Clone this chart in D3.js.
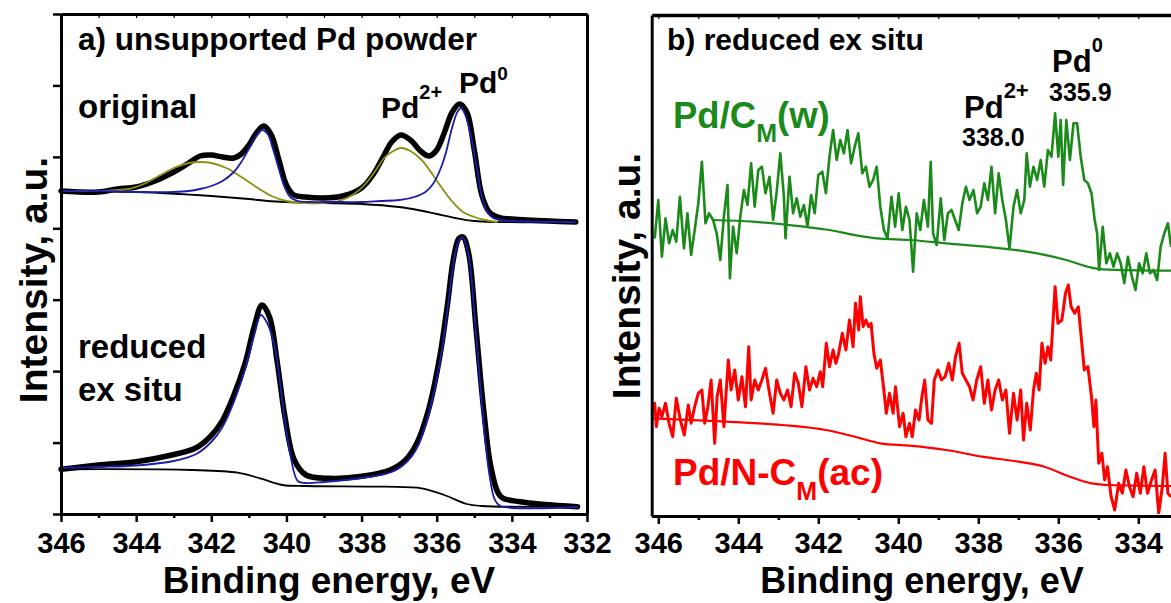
<!DOCTYPE html>
<html><head><meta charset="utf-8">
<script src="https://cdn.jsdelivr.net/npm/d3@7"></script>
<style>
body{margin:0;background:#fff}
text{font-family:"Liberation Sans",Arial,sans-serif;font-weight:bold}
</style>
</head><body>
<svg id="c" width="1171" height="603"></svg>
<script>
// ---------- tick values ----------
const xMajorA = [346,344,342,340,338,336,334,332];
const xMinorA = [345,343,341,339,337,335,333];
const xMajorB = [346,344,342,340,338,336,334];
const xMinorB = [345,343,341,339,337,335,333];
const yTicksA = [0,71.4,142.9,214.3,285.7,357.1,428.6,500];

// ---------- panel a: original (top) ----------
const origData = [[346,323],[345,322],[344.5,325],[344,327],[343.5,333],[343,342],[342.6,351],[342.3,358],[342,359],[341.7,357],[341.4,356],[341.2,360],[341,369],[340.8,381],[340.6,388],[340.4,379],[340.2,354],[340,329],[339.8,319],[339.5,317],[339,316],[338.5,318],[338,326],[337.7,339],[337.4,359],[337.2,372],[336.95,379],[336.7,374],[336.4,362],[336.2,358],[336,364],[335.8,381],[335.6,401],[335.4,410],[335.2,402],[335,364],[334.8,319],[334.6,302],[334.3,296],[334,295],[333,293],[332.3,292]];
const origBg = [[346,323],[344,322],[342,318],[341,315],[340.5,313],[340,312],[339,311],[338,310],[337,307],[336.5,304],[336,300],[335.5,296],[335,293],[334.5,292],[332.3,292]];
const origPd0 = [[346,323],[345,323],[344,322],[343,322],[342.6,323],[342.3,325],[342,328],[341.7,333],[341.4,342],[341.2,352],[341,365],[340.8,378],[340.65,384],[340.5,380],[340.35,364],[340.2,345],[340.05,327],[339.9,317],[339.7,313],[339.4,312],[339,312],[338.5,312],[338,312],[337.5,313],[337,314],[336.6,317],[336.3,322],[336.1,330],[335.9,345],[335.75,362],[335.6,385],[335.45,402],[335.35,406],[335.25,400],[335.1,380],[334.95,350],[334.8,318],[334.65,302],[334.5,296],[334.3,294],[334,293],[332.3,292]];
const origPd2 = [[346,323],[345,323],[344.2,325],[343.8,330],[343.4,338],[343,346],[342.6,351],[342.3,352],[342,351],[341.6,346],[341.2,337],[340.8,327],[340.4,318],[340,313],[339.5,311],[339,311],[338.6,313],[338.2,320],[337.9,330],[337.6,345],[337.4,356],[337.2,362],[336.95,366],[336.7,363],[336.4,354],[336.1,339],[335.9,328],[335.6,313],[335.3,302],[335,297],[334.7,294],[334.4,292]];

// ---------- panel a: reduced ex situ (bottom) ----------
const redData = [[346,44.7],[345,49],[344,52.3],[343.05,59],[342.43,65.7],[342.03,77.3],[341.72,92.3],[341.42,117],[341.1,150.7],[340.86,187],[340.65,209],[340.45,197],[340.24,150.7],[340.04,97.3],[339.79,54],[339.48,39],[338.87,35.7],[337.95,38],[337.24,44],[336.83,54],[336.53,70.7],[336.22,104],[335.92,157],[335.71,210.7],[335.56,254],[335.41,275.7],[335.3,277],[335.15,260.7],[334.95,184],[334.74,100.7],[334.54,44],[334.29,17.3],[333.78,12.3],[332.25,7.3]];
const redBg = [[346,44.7],[342.5,44],[341.3,41.3],[340.7,35.7],[340.1,29],[339.5,28],[337.4,27.3],[336.4,25.7],[335.8,19],[335.2,10],[334.8,8],[332.25,7.3]];
const redPd0 = [[346,46],[345,47],[344,48.5],[343,53],[342.4,60],[342,72],[341.7,87],[341.4,112],[341.1,145],[340.85,180],[340.68,199],[340.5,190],[340.3,165],[340.1,110],[339.9,60],[339.7,33],[339.5,31],[339,32],[338,36],[337.2,42],[336.8,52],[336.5,68],[336.2,102],[335.9,155],[335.7,208],[335.55,252],[335.4,274],[335.3,276],[335.15,258],[334.95,178],[334.75,90],[334.6,40],[334.45,14],[334.3,8],[332.25,7]];

// ---------- panel b ----------
const greenCM = [[346.09,277.7],[346.00,316],[345.91,259.3],[345.82,297.7],[345.73,272.7],[345.64,286],[345.55,274.3],[345.46,319.3],[345.36,267.7],[345.27,302.7],[345.18,261],[345.09,286],[345.00,312.7],[344.91,354.3],[344.82,292.7],[344.73,302.7],[344.63,296],[344.54,282.7],[344.45,256],[344.36,299.3],[344.27,331],[344.21,237.7],[344.13,289.3],[344.04,262.7],[343.95,299.3],[343.86,326],[343.77,311],[343.68,352.7],[343.59,309.3],[343.50,346],[343.41,349.3],[343.32,322.7],[343.22,339.3],[343.13,296],[343.04,324.3],[342.95,362.7],[342.86,319.3],[342.82,277.7],[342.72,339.3],[342.63,302.7],[342.54,317.7],[342.45,299.3],[342.36,311],[342.27,289.3],[342.18,321],[342.09,302.7],[342.00,341],[341.90,344.3],[341.81,322.7],[341.72,359.3],[341.63,386],[341.54,356],[341.45,376],[341.36,362.7],[341.27,386],[341.18,352.7],[341.09,369.3],[341.00,382.7],[340.90,342.7],[340.81,349.3],[340.72,329.3],[340.63,336],[340.54,349.3],[340.45,309.3],[340.36,286],[340.27,277.7],[340.17,319.3],[340.08,289.3],[339.99,322.7],[339.90,286],[339.81,309.3],[339.72,296],[339.63,244.3],[339.54,302.7],[339.45,286],[339.36,316],[339.26,289.3],[339.19,354.3],[339.13,282.7],[339.04,271],[338.94,317.7],[338.85,276],[338.76,302.7],[338.67,306],[338.58,296],[338.49,286],[338.40,312.7],[338.31,329.3],[338.22,316],[338.12,326],[338.03,302.7],[337.94,309.3],[337.85,332.7],[337.76,316],[337.67,349.3],[337.58,302.7],[337.49,342.7],[337.40,316],[337.31,296],[337.22,267.7],[337.12,309.3],[337.03,326],[336.94,302.7],[336.85,316],[336.79,362.7],[336.71,329.3],[336.62,349.3],[336.53,336],[336.44,356],[336.35,329.3],[336.26,366],[336.17,359.3],[336.08,402.7],[336.00,359.3],[335.94,396],[335.88,331],[335.80,396],[335.71,356],[335.62,392.7],[335.53,392.7],[335.44,359.3],[335.35,336],[335.26,332.7],[335.17,322.7],[335.09,296],[335.03,282.7],[334.98,246],[334.89,289.3],[334.80,252.7],[334.71,262.7],[334.62,249.3],[334.53,262.7],[334.44,252.7],[334.35,232.7],[334.26,259.3],[334.16,239.3],[334.07,226],[333.98,252.7],[333.89,242.7],[333.80,262.7],[333.71,242.7],[333.62,246],[333.53,236],[333.44,269.3],[333.35,282.7],[333.26,292.7],[333.18,269.3]];
const greenBg = [[344.63,296],[343.63,294.3],[342.36,289.3],[341.72,286],[341.09,281],[340.54,277.7],[339.72,276],[338.81,272.7],[337.44,267.7],[336.53,262.7],[335.80,256],[335.26,249.3],[334.89,246.7],[333.18,245.3]];
const redNC = [[346.14,102.7],[346.09,112.7],[346.05,89.3],[345.98,107.7],[345.91,99.3],[345.82,112.7],[345.73,92.7],[345.64,79.3],[345.55,117.7],[345.45,96],[345.35,81],[345.25,111],[345.18,92.7],[345.09,109.3],[345.00,122.7],[344.91,126],[344.84,92.7],[344.76,109.3],[344.68,136],[344.59,72.7],[344.53,119.3],[344.45,136],[344.36,89.3],[344.25,156],[344.18,126],[344.09,146],[344.00,116],[343.91,139.3],[343.82,109.3],[343.74,169.3],[343.68,116],[343.59,136],[343.50,126],[343.41,136],[343.32,147.7],[343.22,122.7],[343.13,102.7],[343.04,136],[342.95,122.7],[342.86,116],[342.77,126],[342.68,109.3],[342.59,142.7],[342.50,132.7],[342.41,109.3],[342.31,149.3],[342.22,126],[342.13,137.7],[342.04,129.3],[341.95,144.3],[341.89,129.3],[341.80,172.7],[341.72,149.3],[341.63,166],[341.56,152.7],[341.49,162.7],[341.40,182.7],[341.31,166],[341.22,196],[341.13,169.3],[341.07,212.7],[340.99,186],[340.95,219.3],[340.88,189.3],[340.81,196],[340.74,189.3],[340.68,192.7],[340.61,162.7],[340.54,147.7],[340.45,156],[340.37,129.3],[340.30,102.7],[340.22,122.7],[340.13,102.7],[340.07,129.3],[339.97,89.3],[339.88,102.7],[339.81,79.3],[339.72,92.7],[339.65,79.3],[339.57,106],[339.48,96],[339.41,119.3],[339.34,136],[339.26,96],[339.17,92.7],[339.10,136],[339.01,146],[338.92,136],[338.83,139.3],[338.74,152.7],[338.65,136],[338.57,159.3],[338.48,172.7],[338.40,142.7],[338.31,136],[338.22,129.3],[338.13,116],[338.04,136],[337.94,149.3],[337.85,112.7],[337.76,136],[337.67,106],[337.58,126],[337.49,136],[337.40,116],[337.31,126],[337.22,82.7],[337.12,122.7],[337.03,96],[336.94,126],[336.87,76],[336.79,112.7],[336.70,86],[336.62,126],[336.55,142.7],[336.48,126],[336.41,172.7],[336.33,152.7],[336.26,169.3],[336.19,156],[336.13,196],[336.08,229.3],[336.01,192.7],[335.91,196],[335.82,222.7],[335.75,231],[335.68,209.3],[335.59,202.7],[335.50,209.3],[335.42,176],[335.35,146],[335.26,149.3],[335.17,119.3],[335.11,89.3],[335.06,116],[334.99,52.7],[334.91,62.7],[334.84,36],[334.77,49.3],[334.68,19.3],[334.59,6],[334.49,32.7],[334.40,22.7],[334.31,46],[334.22,29.3],[334.13,19.3],[334.04,42.7],[333.95,22.7],[333.86,49.3],[333.77,22.7],[333.67,36],[333.58,46],[333.49,2.7],[333.40,29.3],[333.33,62.7],[333.26,22.7],[333.18,19.3]];
const redNCBg = [[346.14,97.7],[344.27,94.3],[342.91,91],[341.81,86],[341.09,79.3],[340.45,72.7],[339.72,70.3],[338.81,66],[337.90,59.3],[336.99,54.3],[336.35,49.3],[335.71,39.3],[335.17,32.7],[334.71,31],[333.18,30]];

// ---------- drawing ----------
const svg = d3.select("#c");
const BLUE = "#1c1ca8", OLIVE = "#8f8f14", GREEN = "#1b8a1b", RED = "#ff0000";

const xA = d3.scaleLinear().domain([346,332]).range([61,587]);
const yA = d3.scaleLinear().domain([0,500]).range([514,14]);
const xB = d3.scaleLinear().domain([346.165,333.0]).range([651.7,1178.3]);
const yB = d3.scaleLinear().domain([0,501]).range([516,15]);

function lineGen(xs, ys, curve){
  return d3.line().x(d=>xs(d[0])).y(d=>ys(d[1])).curve(curve||d3.curveLinear);
}
const smooth = d3.curveCatmullRom.alpha(0.5);

// ----- panel a lines -----
const gA = svg.append("g");
function drawA(data, color, w, curve){
  gA.append("path").datum(data).attr("d", lineGen(xA,yA,curve||smooth))
    .attr("fill","none").attr("stroke",color).attr("stroke-width",w)
    .attr("stroke-linejoin","round").attr("stroke-linecap","round");
}
drawA(origData,"#000",5.5);
drawA(redData,"#000",5.5);
drawA(origBg,"#000",1.8);
drawA(redBg,"#000",1.8);
drawA(origPd2,OLIVE,1.8);
drawA(origPd0,BLUE,1.8);
drawA(redPd0,BLUE,1.8);

// ----- panel a axes -----
function styleAxis(g, w){
  g.select(".domain").attr("stroke-width",w||3).attr("stroke","#000");
  g.selectAll(".tick line").attr("stroke-width",2.5).attr("stroke","#000");
}
const axA = svg.append("g").attr("transform","translate(0,514)")
  .call(d3.axisBottom(xA).tickValues(xMajorA).tickSize(8).tickSizeOuter(0).tickFormat(d3.format("d")));
styleAxis(axA);
axA.selectAll("text").attr("dy",null).attr("y",39).attr("font-size",29).attr("fill","#000");
const axAm = svg.append("g").attr("transform","translate(0,514)")
  .call(d3.axisBottom(xA).tickValues(xMinorA).tickSize(4).tickSizeOuter(0).tickFormat(""));
styleAxis(axAm);
const axAt = svg.append("g").attr("transform","translate(0,14)")
  .call(d3.axisBottom(xA).tickValues(xMajorA.concat(xMinorA)).tickSize(4).tickSizeOuter(0).tickFormat(""));
styleAxis(axAt);
axAt.selectAll(".tick line").attr("stroke-width",1.2);
const ayA = svg.append("g").attr("transform","translate(61,0)")
  .call(d3.axisLeft(yA).tickValues(yTicksA).tickSize(8).tickSizeOuter(0).tickFormat(""));
styleAxis(ayA);
const ayAr = svg.append("g").attr("transform","translate(587,0)")
  .call(d3.axisLeft(yA).tickValues([]).tickSizeOuter(0));
styleAxis(ayAr);

// ----- panel b lines -----
svg.append("clipPath").attr("id","clipB").append("rect")
  .attr("x",653).attr("y",16).attr("width",530).attr("height",498);
const gB = svg.append("g").attr("clip-path","url(#clipB)");
function drawB(data, color, w, curve){
  gB.append("path").datum(data).attr("d", lineGen(xB,yB,curve))
    .attr("fill","none").attr("stroke",color).attr("stroke-width",w)
    .attr("stroke-linejoin","round");
}
drawB(greenBg,GREEN,2.2,d3.curveMonotoneX);
drawB(greenCM,GREEN,2.6);
drawB(redNCBg,RED,2.2,d3.curveMonotoneX);
drawB(redNC,RED,3);

// ----- panel b axes -----
const axB = svg.append("g").attr("transform","translate(0,516)")
  .call(d3.axisBottom(xB).tickValues(xMajorB).tickSize(8).tickSizeOuter(0).tickFormat(d3.format("d")));
styleAxis(axB);
axB.selectAll("text").attr("dy",null).attr("y",37).attr("font-size",29).attr("fill","#000");
const axBm = svg.append("g").attr("transform","translate(0,516)")
  .call(d3.axisBottom(xB).tickValues(xMinorB).tickSize(4).tickSizeOuter(0).tickFormat(""));
styleAxis(axBm);
const axBt = svg.append("g").attr("transform","translate(0,15)")
  .call(d3.axisBottom(xB).tickValues(xMajorB.concat(xMinorB)).tickSize(4).tickSizeOuter(0).tickFormat(""));
styleAxis(axBt, 3.5);
axBt.selectAll(".tick line").attr("stroke-width",1.2);
const ayB = svg.append("g").attr("transform","translate(651.7,0)")
  .call(d3.axisLeft(yB).tickValues([]).tickSizeOuter(0));
styleAxis(ayB);

// ----- text -----
function txt(x,y,s,size,color,anchor){
  return svg.append("text").attr("x",x).attr("y",y).attr("font-size",size)
    .attr("fill",color||"#000").attr("text-anchor",anchor||"start").text(s);
}
// panel a
txt(78,50,"a) unsupported Pd powder",31.5);
txt(78,118,"original",33);
let t = txt(381,118,"Pd",30);
t.append("tspan").attr("font-size",20).attr("dy",-19).text("2+");
t = txt(459,93,"Pd",30);
t.append("tspan").attr("font-size",19).attr("dy",-13).text("0");
txt(78,358,"reduced",33);
txt(78,401,"ex situ",33);
txt(329,593,"Binding energy, eV",37,"#000","middle");
svg.append("text").attr("transform","translate(47,280) rotate(-90)")
  .attr("text-anchor","middle").attr("font-size",39).text("Intensity, a.u.");

// panel b
txt(667,50,"b) reduced ex situ",30);
t = txt(673,128,"Pd/C",36.5,GREEN);
t.append("tspan").attr("font-size",25).attr("dy",14).text("M");
t.append("tspan").attr("font-size",36.5).attr("dy",-14).text("(w)");
t = txt(964,118,"Pd",31);
t.append("tspan").attr("font-size",22).attr("dy",-20).text("2+");
txt(962,146,"338.0",25);
t = txt(1052,72,"Pd",31);
t.append("tspan").attr("font-size",20).attr("dy",-20).text("0");
txt(1049,101,"335.9",25);
t = txt(673,485,"Pd/N-C",37,RED);
t.append("tspan").attr("font-size",25).attr("dy",15).text("M");
t.append("tspan").attr("font-size",37).attr("dy",-15).text("(ac)");
txt(922,593,"Binding energy, eV",36,"#000","middle");
svg.append("text").attr("transform","translate(640,276) rotate(-90)")
  .attr("text-anchor","middle").attr("font-size",39).text("Intensity, a.u.");
</script>
</body></html>
